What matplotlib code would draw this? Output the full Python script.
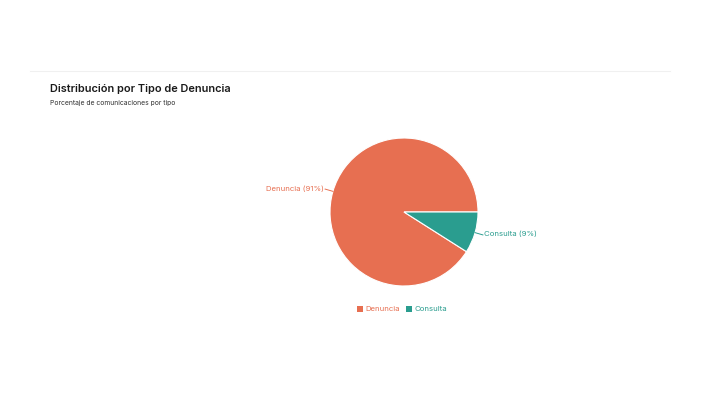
import numpy as np
import matplotlib.pyplot as plt
from matplotlib.lines import Line2D
from matplotlib.patches import Patch

plt.rcParams['font.family'] = ['Inter', 'DejaVu Sans']

labels = ['Denuncia', 'Consulta']
values = [91, 9]
colors = ['#E76F51', '#2A9D8F']

W, H = 711, 400
fig = plt.figure(figsize=(W / 100, H / 100), dpi=100)
fig.patch.set_facecolor('white')

# header
fig.add_artist(Line2D([30 / W, 670 / W], [1 - 71 / H, 1 - 71 / H], color='#f0f0f0', lw=0.8))
fig.text(50 / W, 1 - 89 / H, 'Distribución por Tipo de Denuncia', fontsize=7.9,
         fontweight='semibold', color='#1a1a1a', va='center')
fig.text(50 / W, 1 - 103 / H, 'Porcentaje de comunicaciones por tipo', fontsize=4.9,
         color='#333333', va='center')

# pie
cx, cy, r = 404, 212, 74
ax = fig.add_axes([(cx - r) / W, 1 - (cy + r) / H, 2 * r / W, 2 * r / H])
wedges, _ = ax.pie(values, colors=colors, startangle=0, radius=1,
                   wedgeprops=dict(linewidth=0.8, edgecolor='white'))
ax.set_xlim(-1, 1)
ax.set_ylim(-1, 1)
ax.set_aspect('equal')
ax.axis('off')

total = sum(values)
for w, lab, v, c in zip(wedges, labels, values, colors):
    mid = np.deg2rad((w.theta1 + w.theta2) / 2)
    x0, y0 = np.cos(mid), np.sin(mid)
    x1, y1 = 1.11 * x0, 1.11 * y0
    ax.plot([x0, x1], [y0, y1], color=c, lw=0.7, clip_on=False)
    ha = 'left' if x0 > 0 else 'right'
    ax.text(x1 + (0.02 if x0 > 0 else -0.02), y1 + 0.01, f'{lab} ({v / total * 100:.0f}%)',
            color=c, fontsize=5.6, ha=ha, va='center', clip_on=False)

handles = [Patch(facecolor=c, edgecolor='none') for c in colors]
leg = fig.legend(handles, labels, loc='center', bbox_to_anchor=(402 / W, 1 - 309 / H),
                 ncol=2, frameon=False, fontsize=5.6, handlelength=0.8, handleheight=0.8,
                 handletextpad=0.3, columnspacing=0.8)
for t, c in zip(leg.get_texts(), colors):
    t.set_color(c)

fig.savefig('out.png', dpi=100)
